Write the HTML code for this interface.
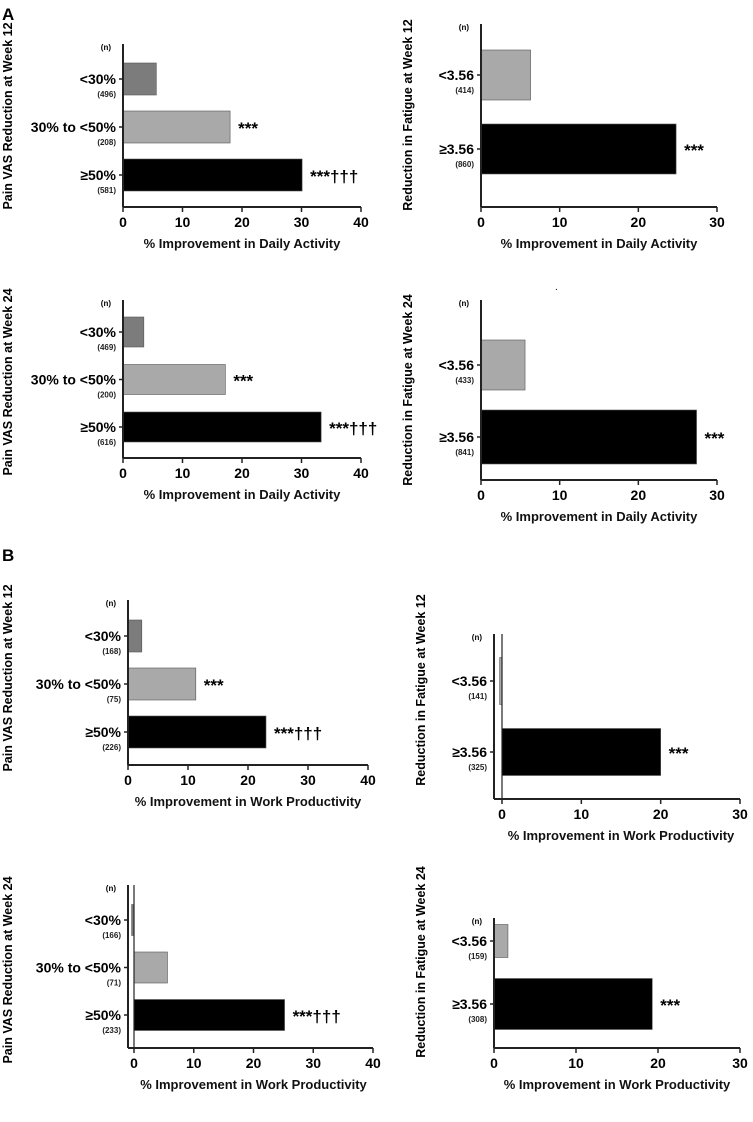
<!DOCTYPE html>
<html><head><meta charset="utf-8">
<style>
html,body{margin:0;padding:0;background:#fff;}
svg{display:block;font-family:"Liberation Sans",Arial,sans-serif;}
</style></head>
<body>
<svg id="fig" width="753" height="1122" viewBox="0 0 753 1122">
<text x="2" y="20" font-size="17" font-weight="bold">A</text>
<text x="2" y="561" font-size="17" font-weight="bold">B</text>
<text x="555" y="290" font-size="10">.</text>
</svg>
<script>
// ---- data ----
const painCategories = ["<30%", "30% to <50%", "\u226550%"];
const fatigueCategories = ["<3.56", "\u22653.56"];
const a1Values = [5.6, 18.0, 30.1];
const a1N = ["(496)", "(208)", "(581)"];
const a1Notes = ["", "***", "***\u2020\u2020\u2020"];
const a2Values = [6.3, 24.8];
const a2N = ["(414)", "(860)"];
const a2Notes = ["", "***"];
const a3Values = [3.5, 17.2, 33.3];
const a3N = ["(469)", "(200)", "(616)"];
const a3Notes = ["", "***", "***\u2020\u2020\u2020"];
const a4Values = [5.6, 27.4];
const a4N = ["(433)", "(841)"];
const a4Notes = ["", "***"];
const b1Values = [2.3, 11.3, 23.0];
const b1N = ["(168)", "(75)", "(226)"];
const b1Notes = ["", "***", "***\u2020\u2020\u2020"];
const b2Values = [-0.3, 20.0];
const b2N = ["(141)", "(325)"];
const b2Notes = ["", "***"];
const b3Values = [-0.4, 5.6, 25.2];
const b3N = ["(166)", "(71)", "(233)"];
const b3Notes = ["", "", "***\u2020\u2020\u2020"];
const b4Values = [1.7, 19.3];
const b4N = ["(159)", "(308)"];
const b4Notes = ["", "***"];
const painTicks = [0, 10, 20, 30, 40];
const fatigueTicks = [0, 10, 20, 30];

const NS = "http://www.w3.org/2000/svg";
const svg = document.getElementById("fig");
function mk(tag, attrs, parent){
  const e = document.createElementNS(NS, tag);
  for (const k in attrs) e.setAttribute(k, attrs[k]);
  (parent||svg).appendChild(e);
  return e;
}
const painColors = ["#7c7c7c", "#a9a9a9", "#000"];
const fatColors = ["#a9a9a9", "#000"];

function panel(p){
  const g = mk("g", {});
  
  
  const xs = v => p.x0 + (v - 0) / (p.ticks[p.ticks.length-1]) * (p.x1 - p.x0);
  const yc = i => p.c0 + i * p.step;
  const axisX = p.axisX !== undefined ? p.axisX : p.x0;
  p.values.forEach((v,i)=>{
    const th = p.th[i] || p.th[0];
    const a = xs(Math.min(0,v)), b = xs(Math.max(0,v));
    const r = mk("rect", {x:a, y:yc(i)-th/2, width:Math.max(b-a,1), height:th, fill:p.colors[i], stroke:"#555", "stroke-width":0.6}, g);
    
    
    if (p.notes[i]){
      const t = mk("text", {x:b+8, y:yc(i)+7, "font-size":17, "font-weight":"bold"}, g);
      t.textContent = p.notes[i];
      
      
    }
    const c = mk("text", {x:axisX-7, y:yc(i)+5, "font-size":14, "font-weight":"bold", "text-anchor":"end"}, g);
    c.textContent = p.cats[i];
    
    
    const n = mk("text", {x:axisX-7, y:yc(i)+18, "font-size":8, "font-weight":"bold", "text-anchor":"end", fill:"#222"}, g);
    n.textContent = p.ns[i];
    
    
    mk("line", {x1:axisX-4, x2:axisX, y1:yc(i), y2:yc(i), stroke:"#222", "stroke-width":1.5}, g);
  });
  const nh = mk("text", {x:axisX-12, y:p.top+6, "font-size":8, "font-weight":"bold", "text-anchor":"end"}, g);
  nh.textContent = "(n)";
  
  
  mk("line", {x1:axisX, x2:axisX, y1:p.top, y2:p.bottom, stroke:"#222", "stroke-width":2}, g);
  if (p.axisX !== undefined) mk("line", {x1:p.x0, x2:p.x0, y1:p.top, y2:p.bottom, stroke:"#222", "stroke-width":1.2}, g);
  mk("line", {x1:axisX, x2:p.x1, y1:p.bottom, y2:p.bottom, stroke:"#222", "stroke-width":2}, g);
  p.ticks.forEach(t=>{
    mk("line", {x1:xs(t), x2:xs(t), y1:p.bottom, y2:p.bottom+5, stroke:"#222", "stroke-width":1.5}, g);
    const tl = mk("text", {x:xs(t), y:p.bottom+20, "font-size":14, "font-weight":"bold", "text-anchor":"middle"}, g);
    tl.textContent = t;
    
    
  });
  const xt = mk("text", {x:(p.x0+p.x1)/2, y:p.bottom+41, "font-size":13, "font-weight":"bold", "text-anchor":"middle", fill:"#111"}, g);
  xt.textContent = p.xtitle;
  
  
  const yt = mk("text", {x:0, y:0, "font-size":12.5, "font-weight":"bold", "text-anchor":"middle", transform:"translate("+p.ytx+","+p.yty+") rotate(-90)"}, g);
  yt.textContent = p.ytitle;
  
  
}
const DA = "% Improvement in Daily Activity", WP = "% Improvement in Work Productivity";
panel({name:"panel-a-pain-week12", short:"a1", cats:painCategories, values:a1Values, ns:a1N, notes:a1Notes, colors:painColors, ticks:painTicks,
  x0:123, x1:361, top:44, bottom:207, c0:79, step:48, th:[32], xtitle:DA, ytitle:"Pain VAS Reduction at Week 12", ytx:12, yty:116});
panel({name:"panel-a-fatigue-week12", short:"a2", cats:fatigueCategories, values:a2Values, ns:a2N, notes:a2Notes, colors:fatColors, ticks:fatigueTicks,
  x0:481, x1:717, top:24, bottom:207, c0:75, step:74, th:[50], xtitle:DA, ytitle:"Reduction in Fatigue at Week 12", ytx:412, yty:115});
panel({name:"panel-a-pain-week24", short:"a3", cats:painCategories, values:a3Values, ns:a3N, notes:a3Notes, colors:painColors, ticks:painTicks,
  x0:123, x1:361, top:300, bottom:458, c0:332, step:47.5, th:[30], xtitle:DA, ytitle:"Pain VAS Reduction at Week 24", ytx:12, yty:382});
panel({name:"panel-a-fatigue-week24", short:"a4", cats:fatigueCategories, values:a4Values, ns:a4N, notes:a4Notes, colors:fatColors, ticks:fatigueTicks,
  x0:481, x1:717, top:300, bottom:480, c0:365, step:72, th:[50,54], xtitle:DA, ytitle:"Reduction in Fatigue at Week 24", ytx:412, yty:390});
panel({name:"panel-b-pain-week12", short:"b1", cats:painCategories, values:b1Values, ns:b1N, notes:b1Notes, colors:painColors, ticks:painTicks,
  x0:128, x1:368, top:600, bottom:765, c0:636, step:48, th:[32], xtitle:WP, ytitle:"Pain VAS Reduction at Week 12", ytx:12, yty:678});
panel({name:"panel-b-fatigue-week12", short:"b2", cats:fatigueCategories, values:b2Values, ns:b2N, notes:b2Notes, colors:fatColors, ticks:fatigueTicks,
  x0:502, x1:740, axisX:494, top:634, bottom:799, c0:681, step:71, th:[47], xtitle:WP, ytitle:"Reduction in Fatigue at Week 12", ytx:425, yty:690});
panel({name:"panel-b-pain-week24", short:"b3", cats:painCategories, values:b3Values, ns:b3N, notes:b3Notes, colors:painColors, ticks:painTicks,
  x0:134, x1:373, axisX:128, top:885, bottom:1048, c0:920, step:47.5, th:[31], xtitle:WP, ytitle:"Pain VAS Reduction at Week 24", ytx:12, yty:970});
panel({name:"panel-b-fatigue-week24", short:"b4", cats:fatigueCategories, values:b4Values, ns:b4N, notes:b4Notes, colors:fatColors, ticks:fatigueTicks,
  x0:494, x1:740, top:918, bottom:1048, c0:941, step:63, th:[33,51], xtitle:WP, ytitle:"Reduction in Fatigue at Week 24", ytx:425, yty:962});
</script>
</body></html>
